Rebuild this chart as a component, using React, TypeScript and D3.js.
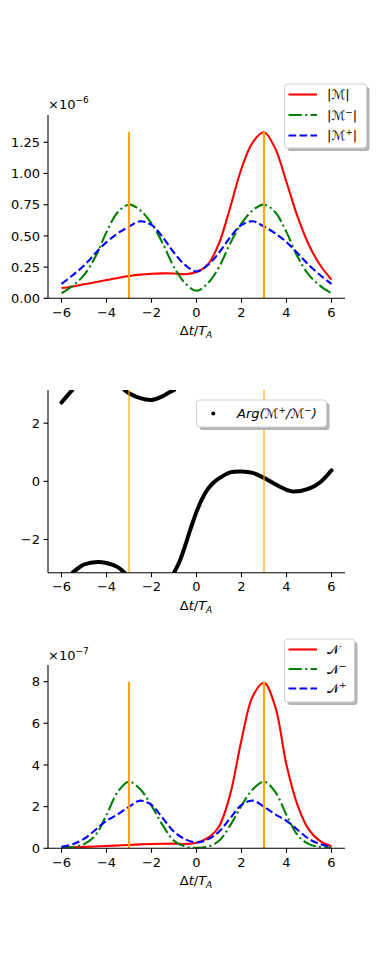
import React from "react";
import * as d3 from "d3";

// ---------- data ----------
const tGrid = [-6, -5.5, -5, -4.5, -4, -3.5, -3, -2.5, -2, -1.5, -1, -0.5, 0, 0.5, 1, 1.5, 2, 2.5, 3, 3.5, 4, 4.5, 5, 5.5, 6];

// |M|, |M-|, |M+|  (x 1e-6)
const magM = [0.082, 0.095, 0.112, 0.128, 0.146, 0.163, 0.178, 0.19, 0.197, 0.2, 0.199, 0.193, 0.21, 0.27, 0.44, 0.73, 1.04, 1.25, 1.33, 1.2, 0.93, 0.65, 0.425, 0.265, 0.15];
const magMminus = [0.04, 0.1, 0.186, 0.33, 0.53, 0.69, 0.75, 0.705, 0.6, 0.44, 0.25, 0.12, 0.06, 0.12, 0.25, 0.44, 0.6, 0.705, 0.75, 0.69, 0.53, 0.33, 0.186, 0.1, 0.04];
const magMplus = [0.115, 0.185, 0.262, 0.36, 0.45, 0.52, 0.575, 0.617, 0.588, 0.49, 0.365, 0.266, 0.215, 0.266, 0.365, 0.49, 0.588, 0.617, 0.575, 0.52, 0.45, 0.36, 0.265, 0.185, 0.115];

// N, N-, N+  (x 1e-7)
const nTot = [0.03, 0.05, 0.07, 0.09, 0.11, 0.135, 0.16, 0.19, 0.21, 0.22, 0.225, 0.21, 0.27, 0.5, 1.05, 2.6, 5.2, 7.3, 7.95, 6.8, 4.0, 2.05, 0.88, 0.34, 0.1];
const nMinus = [0.01, 0.06, 0.2, 0.62, 1.6, 2.71, 3.2, 2.83, 2.05, 1.1, 0.36, 0.08, 0.02, 0.08, 0.36, 1.1, 2.05, 2.83, 3.2, 2.71, 1.6, 0.62, 0.2, 0.06, 0.01];
const nPlus = [0.07, 0.2, 0.45, 0.88, 1.32, 1.63, 1.99, 2.29, 2.08, 1.45, 0.8, 0.43, 0.28, 0.43, 0.8, 1.45, 2.08, 2.29, 1.99, 1.63, 1.32, 0.88, 0.45, 0.2, 0.07];

// Arg(M+/M-), wrapped to [-pi, pi], as continuous pieces
const PI = Math.PI;
const argPieceA_t = [-6, -5.76, -5.52];
const argPieceA = [2.71, 2.93, PI];
const argPieceB_t = [-5.52, -5.25, -5.0, -4.4, -4.0, -3.5, -3.2];
const argPieceB = [-PI, -2.98, -2.86, -2.77, -2.81, -2.95, -PI];
const argPieceC_t = [-3.2, -3.0, -2.5, -2.0, -1.5, -1.3, -1.0];
const argPieceC = [PI, 3.03, 2.86, 2.8, 2.93, 3.02, PI];
const argPieceD_t = [-1.0, -0.75, -0.5, -0.25, 0, 0.25, 0.5, 0.75, 1.0, 1.5, 2.0, 2.5, 3.0, 3.5, 4.0, 4.3, 5.0, 5.5, 6.0];
const argPieceD = [-PI, -2.75, -2.2, -1.6, -1.05, -0.6, -0.27, -0.05, 0.1, 0.31, 0.34, 0.29, 0.12, -0.1, -0.29, -0.35, -0.25, -0.03, 0.38];

const markerT = [-3, 3];

const xTicks = [-6, -4, -2, 0, 2, 4, 6];
const yTicks1 = [0, 0.25, 0.5, 0.75, 1.0, 1.25];
const yTicks2 = [-2, 0, 2];
const yTicks3 = [0, 2, 4, 6, 8];

// ---------- layout ----------
const X0 = 48;
const X1 = 345;
const FONT = "DejaVu Sans, sans-serif";
const fmtMinus = (s: string) => s.replace("-", "\u2212");

type Series = { values: number[]; color: string; dash?: string; label: React.ReactNode };

function Axes({ top, bottom, yDomain, yTicks, yFmt, clipId, children }: any) {
  const x = d3.scaleLinear().domain([-6.6, 6.6]).range([X0, X1]);
  const y = d3.scaleLinear().domain(yDomain).range([bottom, top]);
  return (
    <g>
      <defs>
        <clipPath id={clipId}>
          <rect x={X0} y={top} width={X1 - X0} height={bottom - top} />
        </clipPath>
      </defs>
      <g clipPath={`url(#${clipId})`}>{children(x, y)}</g>
      <line x1={X0} x2={X0} y1={top} y2={bottom} stroke="#000" strokeWidth={1.1} />
      <line x1={X0} x2={X1} y1={bottom} y2={bottom} stroke="#000" strokeWidth={1.1} />
      {xTicks.map((t) => (
        <g key={"x" + t}>
          <line x1={x(t)} x2={x(t)} y1={bottom} y2={bottom + 4.5} stroke="#000" strokeWidth={1.1} />
          <text x={x(t)} y={bottom + 18.5} textAnchor="middle" fontSize={13} fontFamily={FONT}>
            {fmtMinus(String(t))}
          </text>
        </g>
      ))}
      {yTicks.map((v: number) => (
        <g key={"y" + v}>
          <line x1={X0 - 4.5} x2={X0} y1={y(v)} y2={y(v)} stroke="#000" strokeWidth={1.1} />
          <text x={X0 - 8} y={y(v) + 4.7} textAnchor="end" fontSize={13} fontFamily={FONT}>
            {yFmt(v)}
          </text>
        </g>
      ))}
      <text x={196} y={bottom + 37} textAnchor="middle" fontSize={13} fontFamily={FONT}>
        <tspan>Δ</tspan>
        <tspan fontStyle="italic">t</tspan>
        <tspan>/</tspan>
        <tspan fontStyle="italic">T</tspan>
        <tspan fontStyle="italic" fontSize={9} dy={3}>A</tspan>
      </text>
    </g>
  );
}

function Legend({ x, y, w, h, rows, series }: any) {
  return (
    <g>
      <rect x={x + 3} y={y + 3} width={w} height={h} rx={3} fill="#b4b4b4" />
      <rect x={x} y={y} width={w} height={h} rx={3} fill="#fff" stroke="#d0d0d0" strokeWidth={1} />
      {series.map((s: Series, i: number) => (
        <g key={i}>
          <line x1={x + 4} x2={x + 32.5} y1={rows[i]} y2={rows[i]} stroke={s.color} strokeWidth={2.1} strokeDasharray={s.dash} />
          <text x={x + 42.5} y={rows[i] + 4.8} fontSize={13} fontFamily={FONT}>
            {s.label}
          </text>
        </g>
      ))}
    </g>
  );
}

const DASH = "7.7,3.3";
const DASHDOT = "13.3,3.3,2.1,3.3";

function Panel1() {
  const top = 115, bottom = 298.3;
  const ymax = 1.335;
  const series: Series[] = [
    { values: magM, color: "#ff0000", label: <tspan>|ℳ|</tspan> },
    { values: magMminus, color: "#008000", dash: DASHDOT, label: <tspan>|ℳ<tspan fontSize={9} dy={-5}>−</tspan><tspan dy={5}>|</tspan></tspan> },
    { values: magMplus, color: "#0000ff", dash: DASH, label: <tspan>|ℳ<tspan fontSize={9} dy={-5}>+</tspan><tspan dy={5}>|</tspan></tspan> },
  ];
  return (
    <g>
      <Axes top={top} bottom={bottom} yDomain={[0, ymax * 1.1]} yTicks={yTicks1} yFmt={(v: number) => v.toFixed(2)} clipId="c1">
        {(x: any, y: any) => {
          const line = d3.line<number>().x((_, i) => x(tGrid[i])).y((d) => y(d)).curve(d3.curveCatmullRom.alpha(0.5));
          return (
            <g>
              {series.map((s, i) => (
                <path key={i} d={line(s.values) || ""} fill="none" stroke={s.color} strokeWidth={2.1} strokeDasharray={s.dash} />
              ))}
              {markerT.map((t) => (
                <line key={t} x1={x(t)} x2={x(t)} y1={y(0)} y2={y(ymax)} stroke="#ffa500" strokeWidth={2.1} />
              ))}
            </g>
          );
        }}
      </Axes>
      <text x={48} y={109} fontSize={13} fontFamily={FONT}>
        ×10<tspan fontSize={9} dy={-6}>−6</tspan>
      </text>
      <Legend x={284.5} y={84} w={82} h={64} rows={[94.5, 115, 135.5]} series={series} />
    </g>
  );
}

function Panel2() {
  const top = 390, bottom = 572.7;
  const pieces = [
    [argPieceA_t, argPieceA],
    [argPieceB_t, argPieceB],
    [argPieceC_t, argPieceC],
    [argPieceD_t, argPieceD],
  ];
  return (
    <g>
      <Axes top={top} bottom={bottom} yDomain={[-PI, PI]} yTicks={yTicks2} yFmt={(v: number) => fmtMinus(String(v))} clipId="c2">
        {(x: any, y: any) => (
          <g>
            {pieces.map(([ts, vs], k) => {
              const line = d3.line<number>().x((_, i) => x(ts[i])).y((d) => y(d)).curve(d3.curveCatmullRom.alpha(0.5));
              return <path key={k} d={line(vs) || ""} fill="none" stroke="#000" strokeWidth={4} strokeLinecap="round" />;
            })}
            {markerT.map((t) => (
              <line key={t} x1={x(t)} x2={x(t)} y1={top} y2={bottom} stroke="#ffa500" strokeWidth={1.2} />
            ))}
          </g>
        )}
      </Axes>
      <rect x={199.5} y={403} width={130} height={27} rx={3} fill="#b4b4b4" />
      <rect x={196.5} y={400} width={130} height={27} rx={3} fill="#fff" stroke="#d0d0d0" strokeWidth={1} />
      <circle cx={213.3} cy={413.5} r={2} fill="#000" />
      <text x={237} y={418} fontSize={13} fontFamily={FONT} fontStyle="italic">
        Arg(ℳ<tspan fontSize={9} dy={-5}>+</tspan><tspan dy={5}>/ℳ</tspan><tspan fontSize={9} dy={-5}>−</tspan><tspan dy={5}>)</tspan>
      </text>
    </g>
  );
}

function Panel3() {
  const top = 665, bottom = 848.3;
  const ymax = 8.0;
  const series: Series[] = [
    { values: nTot, color: "#ff0000", label: <tspan>𝒩</tspan> },
    { values: nMinus, color: "#008000", dash: DASHDOT, label: <tspan>𝒩<tspan fontSize={9} dy={-5}>−</tspan></tspan> },
    { values: nPlus, color: "#0000ff", dash: DASH, label: <tspan>𝒩<tspan fontSize={9} dy={-5}>+</tspan></tspan> },
  ];
  return (
    <g>
      <Axes top={top} bottom={bottom} yDomain={[0, 8.8]} yTicks={yTicks3} yFmt={(v: number) => String(v)} clipId="c3">
        {(x: any, y: any) => {
          const line = d3.line<number>().x((_, i) => x(tGrid[i])).y((d) => y(d)).curve(d3.curveCatmullRom.alpha(0.5));
          return (
            <g>
              {series.map((s, i) => (
                <path key={i} d={line(s.values) || ""} fill="none" stroke={s.color} strokeWidth={2.1} strokeDasharray={s.dash} />
              ))}
              {markerT.map((t) => (
                <line key={t} x1={x(t)} x2={x(t)} y1={y(0)} y2={y(ymax)} stroke="#ffa500" strokeWidth={2.1} />
              ))}
            </g>
          );
        }}
      </Axes>
      <text x={48} y={660} fontSize={13} fontFamily={FONT}>
        ×10<tspan fontSize={9} dy={-6}>−7</tspan>
      </text>
      <Legend x={284.5} y={639} w={70} h={63} rows={[649.5, 669, 688.5]} series={series} />
    </g>
  );
}

export default function App() {
  return (
    <svg width={382} height={954} style={{ position: "absolute", left: 0, top: 0, background: "#fff" }}>
      <rect width={382} height={954} fill="#fff" />
      <Panel1 />
      <Panel2 />
      <Panel3 />
    </svg>
  );
}
